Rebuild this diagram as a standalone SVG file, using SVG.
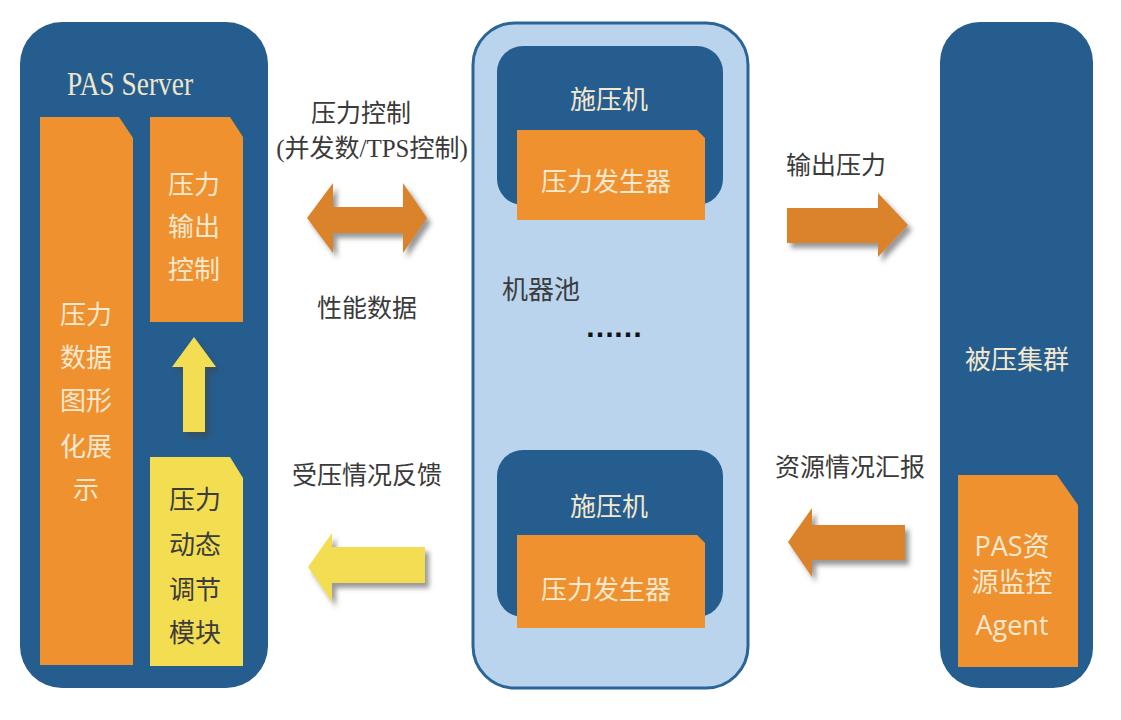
<svg xmlns="http://www.w3.org/2000/svg" width="1121" height="720" viewBox="0 0 1121 720">
<style>
.panel{fill:#255d8e}
.pool{fill:#bad4ee;stroke:#2b6597;stroke-width:3}
.orange{fill:#f0912f}
.yellow{fill:#f3de52}
.lt{font-family:"Liberation Serif","Noto Sans CJK SC",serif;font-size:26px;fill:#f4e8cf;text-anchor:middle}
.dk{font-family:"Liberation Serif","Noto Sans CJK SC",serif;font-size:26px;fill:#3c3c3c;text-anchor:middle}
.lbl{font-family:"Liberation Serif","Noto Sans CJK SC",serif;font-size:25px;fill:#3a3a3a;text-anchor:middle}
.ag{font-family:"Open Sans","Noto Sans CJK SC",sans-serif;font-size:27px;fill:#f4e8cf;text-anchor:middle}
.oarr{fill:#db832c;filter:url(#sh)}
.yarr{fill:#f3de52;filter:url(#sh)}
</style>
<defs>
<filter id="sh" x="-20%" y="-20%" width="150%" height="160%">
<feDropShadow dx="4" dy="5" stdDeviation="2.5" flood-color="#444" flood-opacity="0.55"/>
</filter>
</defs>
<rect width="1121" height="720" fill="#ffffff"/>

<g id="pas-server">
<rect class="panel" x="20" y="22" width="248" height="666" rx="42"/>
<text x="130" y="95" font-family="Liberation Serif,serif" font-size="33" fill="#f0e6cc" text-anchor="middle" textLength="126" lengthAdjust="spacingAndGlyphs">PAS Server</text>
</g>

<g id="graph-display">
<polygon class="orange" points="40,117 119,117 133,138 133,665 40,665"/>
<text class="lt" x="86" y="324">压力</text>
<text class="lt" x="86" y="367">数据</text>
<text class="lt" x="86" y="410">图形</text>
<text class="lt" x="86" y="456">化展</text>
<text class="lt" x="86" y="499">示</text>
</g>

<g id="output-control">
<polygon class="orange" points="150,117 230,117 243,137 243,322 150,322"/>
<text class="lt" x="194" y="194">压力</text>
<text class="lt" x="194" y="236">输出</text>
<text class="lt" x="194" y="279">控制</text>
</g>

<g id="dynamic-module">
<polygon class="yellow" points="150,457 230,457 243,478 243,666 150,666"/>
<text class="dk" x="195" y="509">压力</text>
<text class="dk" x="195" y="554">动态</text>
<text class="dk" x="195" y="599">调节</text>
<text class="dk" x="195" y="642">模块</text>
</g>

<g id="machine-pool">
<rect class="pool" x="473" y="23" width="275" height="665" rx="42"/>
<text class="dk" x="541" y="299" font-size="27" text-anchor="middle">机器池</text>
<text x="614" y="337" font-family="Liberation Sans,sans-serif" font-size="30" font-weight="bold" fill="#111" text-anchor="middle" textLength="58" lengthAdjust="spacing">……</text>
</g>

<g id="loader-1">
<rect class="panel" x="497" y="46" width="226" height="159" rx="26"/>
<text class="lt" x="609" y="109">施压机</text>
<polygon class="orange" points="517,130 697,130 705,138 705,220 517,220"/>
<text class="lt" x="606" y="191">压力发生器</text>
</g>

<g id="loader-2">
<rect class="panel" x="497" y="450" width="226" height="167" rx="26"/>
<text class="lt" x="609" y="516">施压机</text>
<polygon class="orange" points="517,535 697,535 705,543 705,628 517,628"/>
<text class="lt" x="606" y="599">压力发生器</text>
</g>

<g id="target-cluster">
<rect class="panel" x="940" y="22" width="153" height="666" rx="40"/>
<text class="lt" x="1017" y="369">被压集群</text>
</g>

<g id="agent">
<polygon class="orange" points="958,475 1057,475 1078,505 1078,667 958,667"/>
<text class="ag" x="1012" y="556">PAS资</text>
<text class="ag" x="1012" y="592">源监控</text>
<text class="ag" x="1012" y="635">Agent</text>
</g>

<g id="connectors">
<polygon class="yarr" points="183,432 183,367 172,367 194,337 216,367 205,367 205,432"/>
<polygon class="oarr" points="307,218 333,183 333,207 403,207 403,183 427,218 403,253 403,233 333,233 333,253"/>
<text class="lbl" x="361" y="122">压力控制</text>
<text class="lbl" x="372" y="157">(并发数/TPS控制)</text>
<text class="lbl" x="367" y="317">性能数据</text>
<polygon class="yarr" points="425,547 332,547 332,533 308,567 332,602 332,583 425,583"/>
<text class="lbl" x="367" y="484">受压情况反馈</text>
<polygon class="oarr" points="787,208 878,208 878,193 908,225 878,257 878,243 787,243"/>
<text class="lbl" x="836" y="174">输出压力</text>
<polygon class="oarr" points="905,525 812,525 812,508 788,542 812,577 812,560 905,560"/>
<text class="lbl" x="850" y="476">资源情况汇报</text>
</g>
</svg>
